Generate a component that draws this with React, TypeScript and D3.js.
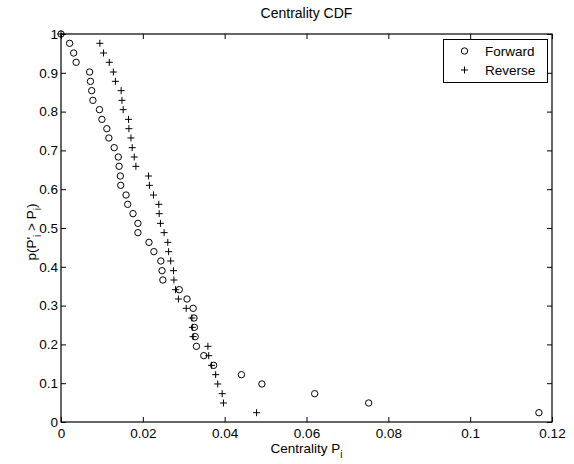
import React, { useEffect, useRef } from "react";
import * as d3 from "d3";

const title = "Centrality CDF";
const seriesNames = ["Forward", "Reverse"];
const xTicks = [0, 0.02, 0.04, 0.06, 0.08, 0.1, 0.12];
const xTickLabels = ["0", "0.02", "0.04", "0.06", "0.08", "0.1", "0.12"];
const yTicks = [0, 0.1, 0.2, 0.3, 0.4, 0.5, 0.6, 0.7, 0.8, 0.9, 1];
const yTickLabels = ["0", "0.1", "0.2", "0.3", "0.4", "0.5", "0.6", "0.7", "0.8", "0.9", "1"];

const probValues = [
  1.0, 0.976, 0.951, 0.927, 0.902, 0.878, 0.854, 0.829, 0.805, 0.78, 0.756,
  0.732, 0.707, 0.683, 0.659, 0.634, 0.61, 0.585, 0.561, 0.537, 0.512, 0.488,
  0.463, 0.439, 0.415, 0.39, 0.366, 0.341, 0.317, 0.293, 0.268, 0.244, 0.22,
  0.195, 0.171, 0.146, 0.122, 0.098, 0.073, 0.049, 0.024,
];

const forwardX = [
  0, 0.0021, 0.0031, 0.0037, 0.007, 0.0072, 0.0075, 0.0078, 0.0094, 0.01,
  0.0112, 0.0117, 0.013, 0.014, 0.0142, 0.0145, 0.0146, 0.0159, 0.0163, 0.0176,
  0.0188, 0.0188, 0.0215, 0.0227, 0.0244, 0.0247, 0.0249, 0.0289, 0.0308,
  0.0323, 0.0325, 0.0326, 0.0328, 0.0331, 0.0349, 0.0373, 0.0441, 0.0491,
  0.062, 0.0752, 0.1168,
];

const reverseX = [
  0, 0.0095, 0.0104, 0.0118, 0.0128, 0.0133, 0.0147, 0.0149, 0.0152, 0.0165,
  0.0166, 0.0171, 0.0174, 0.0179, 0.0183, 0.0214, 0.0216, 0.0226, 0.0239,
  0.024, 0.0243, 0.0252, 0.0261, 0.0263, 0.0268, 0.0275, 0.0276, 0.028,
  0.0287, 0.0306, 0.032, 0.0321, 0.0323, 0.0359, 0.0361, 0.0368, 0.0378,
  0.0383, 0.0394, 0.0397, 0.0478,
];

const W = 574;
const H = 464;
const FONT = "'Liberation Sans', Arial, Helvetica, sans-serif";
const FS = 13.5;

export default function App() {
  const ref = useRef<SVGSVGElement | null>(null);

  useEffect(() => {
    const svg = d3.select(ref.current);
    svg.selectAll("*").remove();

    const x = d3.scaleLinear().domain([0, 0.12]).range([61, 552]);
    const y = d3.scaleLinear().domain([0, 1]).range([422, 34]);

    svg.append("rect").attr("width", W).attr("height", H).attr("fill", "#fff");

    const styleAxis = (g: any) => {
      g.select(".domain").remove();
      g.selectAll("line").attr("stroke", "#000").attr("stroke-width", 1);
      g.selectAll("text").attr("fill", "#000").style("font-family", FONT).style("font-size", FS + "px");
    };

    svg.append("g").attr("transform", "translate(0,422)")
      .call(d3.axisBottom(x).tickValues(xTicks).tickSize(-5).tickSizeOuter(0).tickPadding(6)
        .tickFormat((d: any, i: number) => xTickLabels[i]))
      .call(styleAxis);
    svg.append("g").attr("transform", "translate(0,34)")
      .call(d3.axisTop(x).tickValues(xTicks).tickSize(-5).tickSizeOuter(0).tickFormat(() => ""))
      .call(styleAxis);
    svg.append("g").attr("transform", "translate(61,0)")
      .call(d3.axisLeft(y).tickValues(yTicks).tickSize(-5).tickSizeOuter(0).tickPadding(3)
        .tickFormat((d: any, i: number) => yTickLabels[i]))
      .call(styleAxis);
    svg.append("g").attr("transform", "translate(552,0)")
      .call(d3.axisRight(y).tickValues(yTicks).tickSize(-5).tickSizeOuter(0).tickFormat(() => ""))
      .call(styleAxis);

    svg.append("rect")
      .attr("x", 61).attr("y", 34).attr("width", 552 - 61).attr("height", 422 - 34)
      .attr("fill", "none").attr("stroke", "#000").attr("stroke-width", 1.2);

    const plus = (g: any, cx: number, cy: number, s: number) => {
      g.append("path")
        .attr("d", `M${cx - s},${cy}H${cx + s}M${cx},${cy - s}V${cy + s}`)
        .attr("stroke", "#000").attr("stroke-width", 1).attr("fill", "none");
    };

    const pts = svg.append("g");
    forwardX.forEach((v, i) => {
      pts.append("circle").attr("cx", x(v)).attr("cy", y(probValues[i])).attr("r", 3.2)
        .attr("fill", "none").attr("stroke", "#000").attr("stroke-width", 1);
    });
    reverseX.forEach((v, i) => plus(pts, x(v), y(probValues[i]), 3.5));

    // Legend
    const lg = svg.append("g");
    lg.append("rect").attr("x", 443.5).attr("y", 39.5).attr("width", 104).attr("height", 43)
      .attr("fill", "#fff").attr("stroke", "#000").attr("stroke-width", 1);
    lg.append("circle").attr("cx", 464.5).attr("cy", 51).attr("r", 3.2)
      .attr("fill", "none").attr("stroke", "#000");
    plus(lg, 464.5, 70, 3.5);
    seriesNames.forEach((n, i) => {
      lg.append("text").attr("x", 485).attr("y", 51 + i * 19).attr("dy", "0.35em")
        .style("font-family", FONT).style("font-size", FS + "px").attr("fill", "#000").text(n);
    });

    // Title
    svg.append("text").attr("x", 306.5).attr("y", 18).attr("text-anchor", "middle")
      .style("font-family", FONT).style("font-size", "14px").attr("fill", "#000").text(title);

    // X label
    const xl = svg.append("text").attr("x", 306.5).attr("y", 453).attr("text-anchor", "middle")
      .style("font-family", FONT).style("font-size", FS + "px").attr("fill", "#000");
    xl.append("tspan").text("Centrality P");
    xl.append("tspan").attr("dy", 5).style("font-size", "10px").text("i");

    // Y label
    const yl = svg.append("text").attr("transform", "translate(36,232) rotate(-90)")
      .attr("text-anchor", "middle")
      .style("font-family", FONT).style("font-size", FS + "px").attr("fill", "#000");
    yl.append("tspan").text("p(P'");
    yl.append("tspan").attr("dy", 5).style("font-size", "10px").text("i");
    yl.append("tspan").attr("dy", -5).text(" > P");
    yl.append("tspan").attr("dy", 5).style("font-size", "10px").text("i");
    yl.append("tspan").attr("dy", -5).text(")");
  }, []);

  return (
    <svg ref={ref} width={W} height={H}
      style={{ position: "absolute", left: 0, top: 0, display: "block" }} />
  );
}
